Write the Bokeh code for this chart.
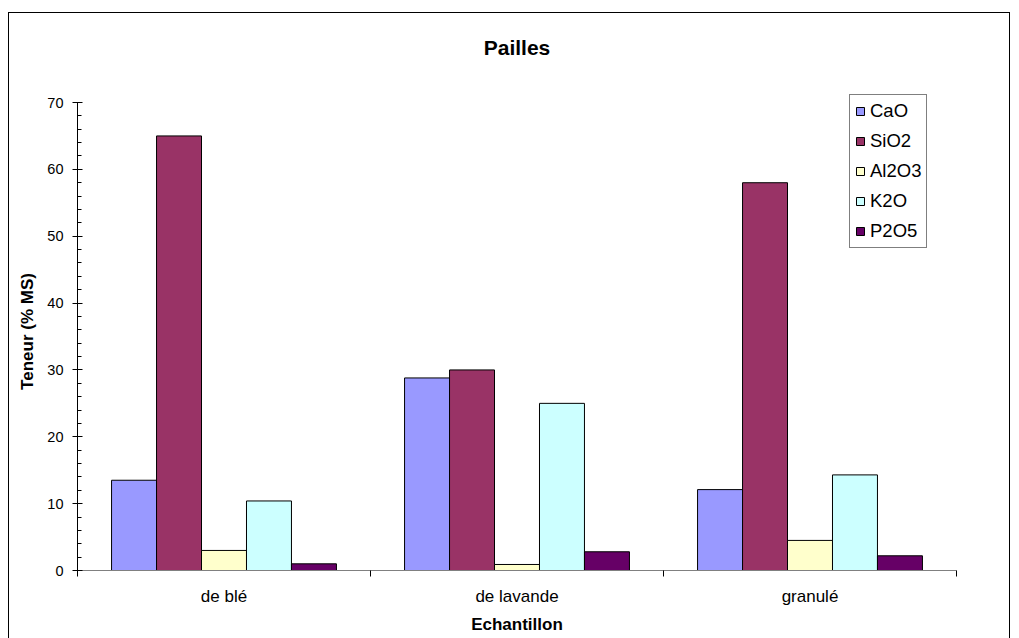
from bokeh.plotting import figure
from bokeh.models import (ColumnDataSource, FixedTicker, SingleIntervalTicker,
                          Legend, LegendItem, Range1d, Title)
from bokeh.embed import file_html
from bokeh.resources import INLINE

# Samples (categories) and oxide contents (% of dry matter)
samples = ["de blé", "de lavande", "granulé"]
oxides = ["CaO", "SiO2", "Al2O3", "K2O", "P2O5"]
cao = [13.5, 28.8, 12.1]
sio2 = [65.0, 30.0, 58.0]
al2o3 = [3.0, 0.9, 4.5]
k2o = [10.4, 25.0, 14.3]
p2o5 = [1.0, 2.8, 2.2]
series = [cao, sio2, al2o3, k2o, p2o5]
colors = ["#9999FF", "#993366", "#FFFFCC", "#CCFFFF", "#660066"]

FONT = "Liberation Sans"
BAR_W = 0.1535
Y_MAX = 70
# frame reaches a little above the top tick so the legend box is not clipped
HEADROOM_PX = 10
PLOT_H = 468

p = figure(width=1002, height=640, output_backend="svg", toolbar_location=None,
           x_range=Range1d(0, len(samples)),
           y_range=Range1d(0, Y_MAX + HEADROOM_PX * Y_MAX / PLOT_H),
           min_border_left=68, min_border_right=55,
           min_border_top=89 - HEADROOM_PX, min_border_bottom=83,
           background_fill_color="white", border_fill_color="white")
p.styles = {"border": "1px solid black", "margin-left": "8px", "margin-top": "12px"}
p.outline_line_color = None
p.xgrid.visible = False
p.ygrid.visible = False

# blank band between the chart title and the plot area
p.add_layout(Title(text=" ", text_font_size="15px"), "above")
p.add_layout(Title(text="Pailles", align="center", offset=4, text_font=FONT,
                   text_font_size="21px", text_font_style="bold",
                   text_color="black"), "above")

items = []
n = len(oxides)
for j, (name, vals, col) in enumerate(zip(oxides, series, colors)):
    xs = [i + 0.5 + (j - (n - 1) / 2) * BAR_W for i in range(len(samples))]
    src = ColumnDataSource(dict(x=xs, top=vals))
    r = p.vbar(x="x", top="top", width=BAR_W, bottom=0, source=src,
               fill_color=col, line_color="black", line_width=1)
    items.append(LegendItem(label=name, renderers=[r]))

# x axis: category names at centres, boundary ticks between groups
xa = p.xaxis[0]
xa.ticker = FixedTicker(ticks=[i + 0.5 for i in range(len(samples))],
                        minor_ticks=list(range(len(samples) + 1)))
xa.major_label_overrides = {i + 0.5: s for i, s in enumerate(samples)}
xa.major_tick_out = 0
xa.major_tick_in = 0
xa.minor_tick_out = 6
xa.minor_tick_in = 0
xa.minor_tick_line_color = "black"
xa.axis_line_color = "#808080"
xa.major_label_text_font = FONT
xa.major_label_text_font_size = "17px"
xa.major_label_text_color = "black"
xa.major_label_standoff = 10
xa.axis_label = "Echantillon"
xa.axis_label_text_font = FONT
xa.axis_label_text_font_size = "17px"
xa.axis_label_text_font_style = "bold"
xa.axis_label_text_color = "black"
xa.axis_label_standoff = 6

ya = p.yaxis[0]
ya.bounds = (0, Y_MAX)
ya.ticker = SingleIntervalTicker(interval=10, num_minor_ticks=5)
ya.major_tick_out = 5
ya.major_tick_in = 5
ya.minor_tick_out = 0
ya.minor_tick_in = 4
ya.axis_line_color = "black"
ya.major_tick_line_color = "black"
ya.minor_tick_line_color = "black"
ya.major_label_text_font = FONT
ya.major_label_text_font_size = "14.5px"
ya.major_label_text_color = "black"
ya.major_label_standoff = 9
ya.axis_label = "Teneur (% MS)"
ya.axis_label_text_font = FONT
ya.axis_label_text_font_size = "17px"
ya.axis_label_text_font_style = "bold"
ya.axis_label_text_color = "black"
ya.axis_label_standoff = 7

legend = Legend(items=items, location=(772, 322), orientation="vertical",
                label_text_font=FONT, label_text_font_size="18.5px",
                label_text_color="black",
                glyph_width=10, glyph_height=10, label_height=20,
                label_standoff=5, spacing=8, padding=5, margin=0,
                border_line_color="black", border_line_width=1,
                background_fill_color="white", background_fill_alpha=1)
p.add_layout(legend, "center")

open("out.html", "w").write(file_html(p, INLINE))
